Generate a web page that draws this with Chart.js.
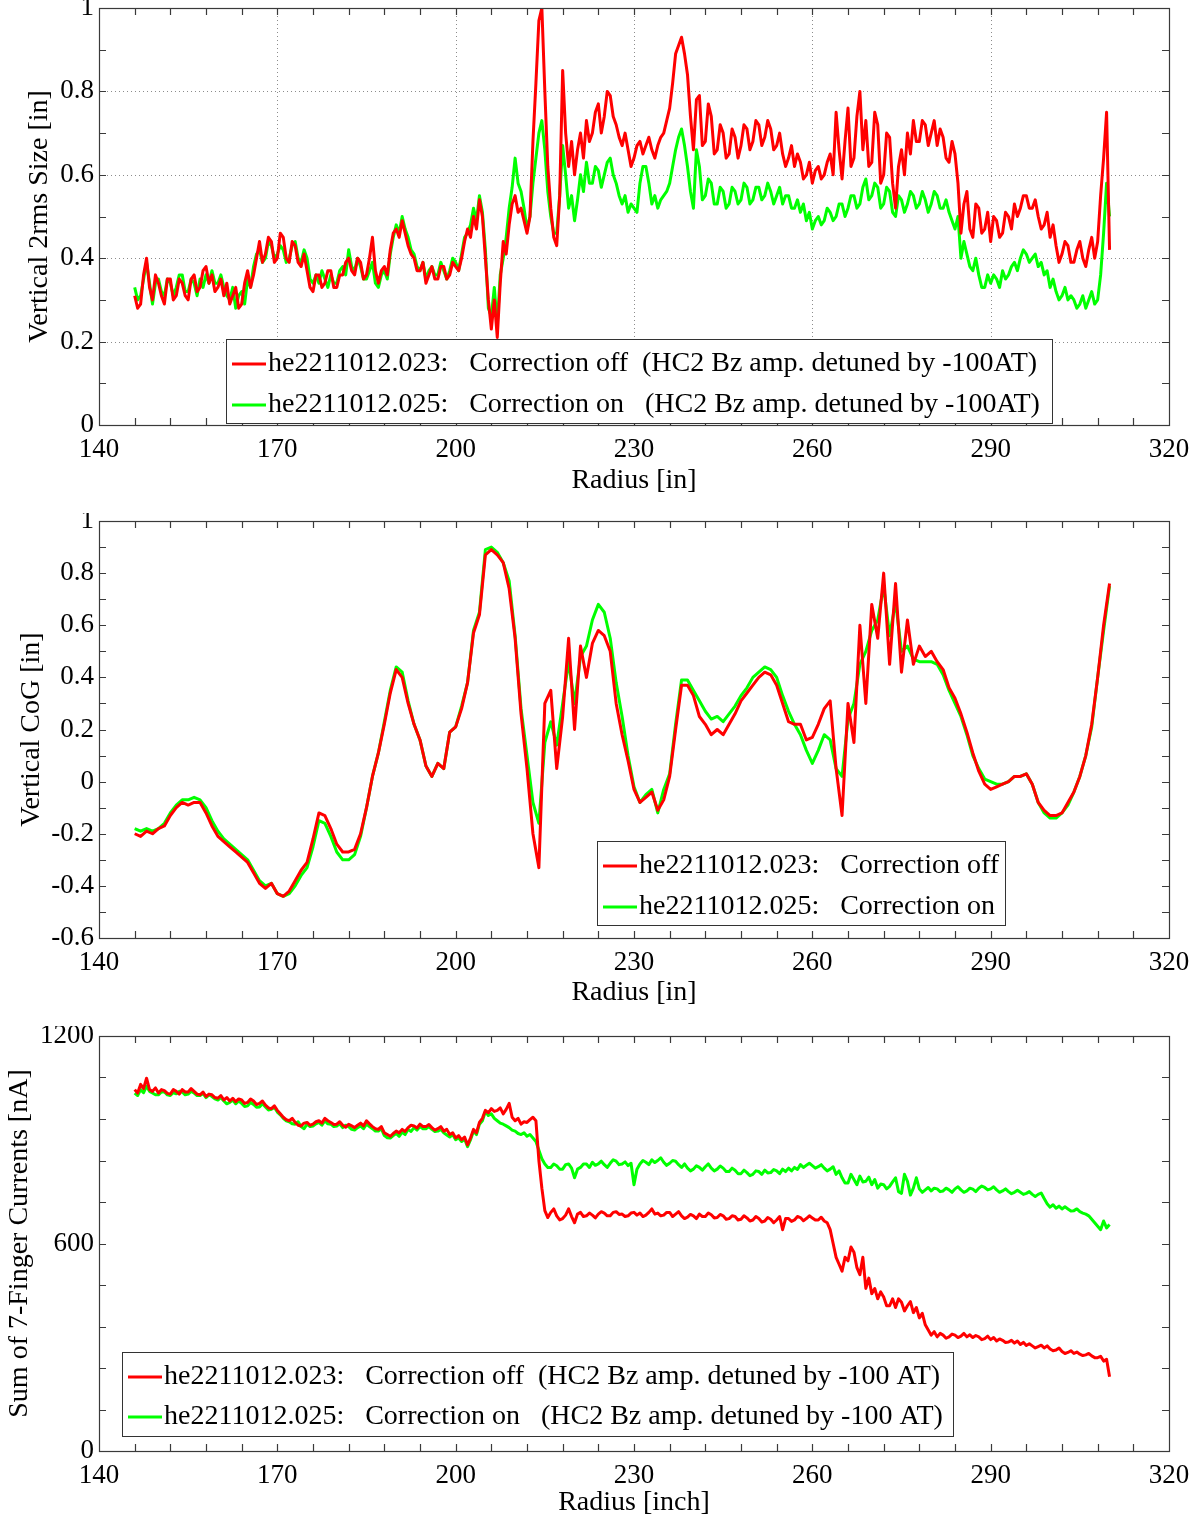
<!DOCTYPE html>
<html>
<head>
<meta charset="utf-8">
<script src="https://cdn.jsdelivr.net/npm/chart.js@4.4.0/dist/chart.umd.min.js"></script>
<style>
  html, body { margin: 0; padding: 0; background: #fff; }
  #wrap { position: relative; width: 1204px; height: 1519px; overflow: hidden; background: #fff; }
  canvas { position: absolute; left: 0; }
</style>
</head>
<body>
<div id="wrap">
  <canvas id="sizeCanvas" width="1204" height="513" style="top:0px"></canvas>
  <canvas id="cogCanvas" width="1204" height="513" style="top:513px"></canvas>
  <canvas id="currentCanvas" width="1204" height="493" style="top:1026px"></canvas>
</div>
<script>
// Beam profile comparison - correction off (red) vs correction on (green)

// radius samples every 0.5 in (size and current panels)
const radiusFine = [
  146, 146.5, 147, 147.5, 148, 148.5, 149, 149.5, 150, 150.5,
  151, 151.5, 152, 152.5, 153, 153.5, 154, 154.5, 155, 155.5,
  156, 156.5, 157, 157.5, 158, 158.5, 159, 159.5, 160, 160.5,
  161, 161.5, 162, 162.5, 163, 163.5, 164, 164.5, 165, 165.5,
  166, 166.5, 167, 167.5, 168, 168.5, 169, 169.5, 170, 170.5,
  171, 171.5, 172, 172.5, 173, 173.5, 174, 174.5, 175, 175.5,
  176, 176.5, 177, 177.5, 178, 178.5, 179, 179.5, 180, 180.5,
  181, 181.5, 182, 182.5, 183, 183.5, 184, 184.5, 185, 185.5,
  186, 186.5, 187, 187.5, 188, 188.5, 189, 189.5, 190, 190.5,
  191, 191.5, 192, 192.5, 193, 193.5, 194, 194.5, 195, 195.5,
  196, 196.5, 197, 197.5, 198, 198.5, 199, 199.5, 200, 200.5,
  201, 201.5, 202, 202.5, 203, 203.5, 204, 204.5, 205, 205.5,
  206, 206.5, 207, 207.5, 208, 208.5, 209, 209.5, 210, 210.5,
  211, 211.5, 212, 212.5, 213, 213.5, 214, 214.5, 215, 215.5,
  216, 216.5, 217, 217.5, 218, 218.5, 219, 219.5, 220, 220.5,
  221, 221.5, 222, 222.5, 223, 223.5, 224, 224.5, 225, 225.5,
  226, 226.5, 227, 227.5, 228, 228.5, 229, 229.5, 230, 230.5,
  231, 231.5, 232, 232.5, 233, 233.5, 234, 234.5, 235, 235.5,
  236, 236.5, 237, 237.5, 238, 238.5, 239, 239.5, 240, 240.5,
  241, 241.5, 242, 242.5, 243, 243.5, 244, 244.5, 245, 245.5,
  246, 246.5, 247, 247.5, 248, 248.5, 249, 249.5, 250, 250.5,
  251, 251.5, 252, 252.5, 253, 253.5, 254, 254.5, 255, 255.5,
  256, 256.5, 257, 257.5, 258, 258.5, 259, 259.5, 260, 260.5,
  261, 261.5, 262, 262.5, 263, 263.5, 264, 264.5, 265, 265.5,
  266, 266.5, 267, 267.5, 268, 268.5, 269, 269.5, 270, 270.5,
  271, 271.5, 272, 272.5, 273, 273.5, 274, 274.5, 275, 275.5,
  276, 276.5, 277, 277.5, 278, 278.5, 279, 279.5, 280, 280.5,
  281, 281.5, 282, 282.5, 283, 283.5, 284, 284.5, 285, 285.5,
  286, 286.5, 287, 287.5, 288, 288.5, 289, 289.5, 290, 290.5,
  291, 291.5, 292, 292.5, 293, 293.5, 294, 294.5, 295, 295.5,
  296, 296.5, 297, 297.5, 298, 298.5, 299, 299.5, 300, 300.5,
  301, 301.5, 302, 302.5, 303, 303.5, 304, 304.5, 305, 305.5,
  306, 306.5, 307, 307.5, 308, 308.5, 309, 309.5, 310
];

// radius samples every 1 in (CoG panel)
const radius = [
  146, 147, 148, 149, 150, 151, 152, 153, 154, 155,
  156, 157, 158, 159, 160, 161, 162, 163, 164, 165,
  166, 167, 168, 169, 170, 171, 172, 173, 174, 175,
  176, 177, 178, 179, 180, 181, 182, 183, 184, 185,
  186, 187, 188, 189, 190, 191, 192, 193, 194, 195,
  196, 197, 198, 199, 200, 201, 202, 203, 204, 205,
  206, 207, 208, 209, 210, 211, 212, 213, 214, 215,
  216, 217, 218, 219, 220, 221, 222, 223, 224, 225,
  226, 227, 228, 229, 230, 231, 232, 233, 234, 235,
  236, 237, 238, 239, 240, 241, 242, 243, 244, 245,
  246, 247, 248, 249, 250, 251, 252, 253, 254, 255,
  256, 257, 258, 259, 260, 261, 262, 263, 264, 265,
  266, 267, 268, 269, 270, 271, 272, 273, 274, 275,
  276, 277, 278, 279, 280, 281, 282, 283, 284, 285,
  286, 287, 288, 289, 290, 291, 292, 293, 294, 295,
  296, 297, 298, 299, 300, 301, 302, 303, 304, 305,
  306, 307, 308, 309, 310
];

// Vertical 2rms size [in] (on radiusFine)
const sizeOff = [
  0.31, 0.28, 0.29, 0.36, 0.40, 0.33, 0.30, 0.36, 0.34, 0.31,
  0.29, 0.35, 0.35, 0.30, 0.31, 0.35, 0.34, 0.31, 0.30, 0.35,
  0.36, 0.32, 0.33, 0.37, 0.38, 0.34, 0.36, 0.32, 0.33, 0.35,
  0.31, 0.34, 0.29, 0.31, 0.33, 0.28, 0.29, 0.34, 0.37, 0.33,
  0.36, 0.40, 0.44, 0.39, 0.41, 0.45, 0.44, 0.39, 0.40, 0.46,
  0.45, 0.40, 0.39, 0.44, 0.43, 0.39, 0.38, 0.41, 0.37, 0.33,
  0.32, 0.36, 0.36, 0.33, 0.34, 0.37, 0.37, 0.33, 0.33, 0.36,
  0.36, 0.39, 0.40, 0.37, 0.36, 0.40, 0.39, 0.35, 0.36, 0.40,
  0.45, 0.37, 0.34, 0.37, 0.38, 0.36, 0.42, 0.46, 0.47, 0.45,
  0.49, 0.46, 0.43, 0.41, 0.40, 0.37, 0.37, 0.39, 0.34, 0.36,
  0.38, 0.35, 0.35, 0.38, 0.38, 0.35, 0.36, 0.39, 0.38, 0.37,
  0.40, 0.44, 0.47, 0.45, 0.50, 0.47, 0.54, 0.50, 0.40, 0.30,
  0.23, 0.30, 0.21, 0.34, 0.44, 0.41, 0.48, 0.53, 0.55, 0.51,
  0.52, 0.49, 0.46, 0.50, 0.68, 0.82, 0.97, 1.00, 0.80, 0.62,
  0.52, 0.45, 0.43, 0.55, 0.85, 0.70, 0.62, 0.68, 0.60, 0.66,
  0.70, 0.64, 0.73, 0.68, 0.70, 0.75, 0.77, 0.70, 0.74, 0.80,
  0.79, 0.74, 0.72, 0.69, 0.67, 0.70, 0.66, 0.62, 0.64, 0.67,
  0.68, 0.65, 0.67, 0.69, 0.66, 0.64, 0.67, 0.69, 0.70, 0.73,
  0.76, 0.82, 0.89, 0.91, 0.93, 0.89, 0.84, 0.74, 0.66, 0.78,
  0.79, 0.67, 0.68, 0.77, 0.74, 0.65, 0.66, 0.72, 0.70, 0.64,
  0.65, 0.71, 0.69, 0.64, 0.67, 0.72, 0.71, 0.66, 0.68, 0.73,
  0.72, 0.67, 0.69, 0.73, 0.71, 0.66, 0.67, 0.70, 0.65, 0.62,
  0.64, 0.67, 0.62, 0.65, 0.63, 0.59, 0.60, 0.63, 0.58, 0.61,
  0.62, 0.59, 0.60, 0.63, 0.65, 0.60, 0.75, 0.66, 0.59, 0.68,
  0.76, 0.62, 0.64, 0.74, 0.80, 0.66, 0.73, 0.62, 0.63, 0.75,
  0.72, 0.58, 0.60, 0.70, 0.69, 0.58, 0.52, 0.62, 0.66, 0.60,
  0.70, 0.65, 0.73, 0.68, 0.68, 0.73, 0.72, 0.67, 0.70, 0.73,
  0.67, 0.71, 0.69, 0.64, 0.63, 0.68, 0.65, 0.58, 0.46, 0.53,
  0.56, 0.47, 0.45, 0.53, 0.52, 0.46, 0.47, 0.51, 0.44, 0.50,
  0.49, 0.45, 0.46, 0.51, 0.50, 0.47, 0.53, 0.50, 0.52, 0.55,
  0.55, 0.52, 0.52, 0.54, 0.50, 0.47, 0.48, 0.51, 0.45, 0.48,
  0.43, 0.39, 0.41, 0.44, 0.43, 0.39, 0.39, 0.42, 0.44, 0.40,
  0.38, 0.42, 0.45, 0.40, 0.44, 0.55, 0.64, 0.75, 0.42
];
const sizeOn = [
  0.33, 0.30, 0.31, 0.35, 0.39, 0.34, 0.29, 0.34, 0.35, 0.32,
  0.31, 0.35, 0.34, 0.31, 0.33, 0.36, 0.36, 0.32, 0.32, 0.35,
  0.34, 0.31, 0.35, 0.33, 0.36, 0.34, 0.37, 0.34, 0.34, 0.36,
  0.33, 0.31, 0.30, 0.33, 0.28, 0.31, 0.32, 0.29, 0.35, 0.33,
  0.38, 0.41, 0.42, 0.39, 0.40, 0.44, 0.43, 0.40, 0.41, 0.43,
  0.42, 0.39, 0.40, 0.43, 0.44, 0.40, 0.39, 0.42, 0.40, 0.35,
  0.34, 0.36, 0.34, 0.37, 0.35, 0.33, 0.36, 0.34, 0.34, 0.37,
  0.38, 0.36, 0.42, 0.38, 0.37, 0.40, 0.38, 0.35, 0.35, 0.37,
  0.39, 0.34, 0.33, 0.36, 0.37, 0.35, 0.41, 0.45, 0.48, 0.46,
  0.50, 0.47, 0.45, 0.42, 0.41, 0.38, 0.37, 0.39, 0.35, 0.37,
  0.38, 0.36, 0.36, 0.39, 0.37, 0.35, 0.37, 0.40, 0.39, 0.37,
  0.41, 0.45, 0.46, 0.48, 0.52, 0.49, 0.55, 0.51, 0.42, 0.28,
  0.26, 0.33, 0.24, 0.36, 0.40, 0.45, 0.52, 0.57, 0.64, 0.58,
  0.56, 0.52, 0.47, 0.50, 0.58, 0.64, 0.70, 0.73, 0.66, 0.56,
  0.50, 0.46, 0.46, 0.55, 0.67, 0.60, 0.52, 0.55, 0.49, 0.54,
  0.60, 0.56, 0.63, 0.58, 0.58, 0.62, 0.61, 0.57, 0.60, 0.63,
  0.64, 0.60, 0.58, 0.55, 0.53, 0.55, 0.51, 0.53, 0.52, 0.51,
  0.58, 0.62, 0.62, 0.58, 0.53, 0.55, 0.52, 0.54, 0.55, 0.56,
  0.58, 0.62, 0.66, 0.69, 0.71, 0.67, 0.62, 0.56, 0.52, 0.66,
  0.62, 0.54, 0.55, 0.59, 0.58, 0.53, 0.53, 0.57, 0.56, 0.52,
  0.53, 0.57, 0.56, 0.53, 0.54, 0.58, 0.57, 0.53, 0.54, 0.57,
  0.57, 0.54, 0.55, 0.58, 0.56, 0.53, 0.55, 0.57, 0.53, 0.55,
  0.55, 0.52, 0.52, 0.54, 0.51, 0.53, 0.49, 0.51, 0.47, 0.49,
  0.50, 0.48, 0.49, 0.52, 0.51, 0.49, 0.50, 0.53, 0.53, 0.50,
  0.52, 0.55, 0.55, 0.52, 0.53, 0.57, 0.59, 0.54, 0.55, 0.58,
  0.57, 0.52, 0.53, 0.57, 0.56, 0.51, 0.50, 0.55, 0.54, 0.51,
  0.53, 0.56, 0.55, 0.52, 0.53, 0.56, 0.54, 0.51, 0.53, 0.56,
  0.55, 0.52, 0.52, 0.54, 0.51, 0.49, 0.47, 0.50, 0.40, 0.44,
  0.41, 0.38, 0.37, 0.40, 0.36, 0.33, 0.33, 0.36, 0.34, 0.36,
  0.35, 0.33, 0.37, 0.35, 0.36, 0.38, 0.39, 0.37, 0.40, 0.42,
  0.41, 0.39, 0.40, 0.41, 0.38, 0.39, 0.36, 0.37, 0.33, 0.35,
  0.32, 0.30, 0.31, 0.33, 0.30, 0.31, 0.30, 0.28, 0.29, 0.31,
  0.28, 0.30, 0.32, 0.29, 0.30, 0.36, 0.46, 0.58, 0.50
];

// Vertical centre of gravity [in] (on radius)
const cogOff = [
  -0.20, -0.21, -0.19, -0.20, -0.18, -0.17, -0.13, -0.10, -0.08, -0.09,
  -0.08, -0.08, -0.12, -0.17, -0.21, -0.23, -0.25, -0.27, -0.29, -0.31,
  -0.35, -0.39, -0.41, -0.39, -0.43, -0.44, -0.42, -0.38, -0.34, -0.31,
  -0.22, -0.12, -0.13, -0.18, -0.24, -0.27, -0.27, -0.26, -0.20, -0.10,
  0.02, 0.11, 0.22, 0.34, 0.43, 0.40, 0.30, 0.22, 0.16, 0.06,
  0.02, 0.07, 0.05, 0.19, 0.21, 0.28, 0.38, 0.57, 0.64, 0.87,
  0.89, 0.87, 0.84, 0.74, 0.55, 0.26, 0.05, -0.20, -0.33, 0.30,
  0.35, 0.05, 0.25, 0.55, 0.20, 0.52, 0.40, 0.53, 0.58, 0.56,
  0.50, 0.30, 0.18, 0.08, -0.03, -0.08, -0.06, -0.04, -0.11, -0.07,
  0.02, 0.20, 0.37, 0.37, 0.33, 0.25, 0.22, 0.18, 0.20, 0.18,
  0.22, 0.26, 0.31, 0.34, 0.37, 0.40, 0.42, 0.41, 0.37, 0.30,
  0.23, 0.22, 0.22, 0.16, 0.17, 0.22, 0.28, 0.31, 0.05, -0.13,
  0.30, 0.15, 0.60, 0.30, 0.68, 0.55, 0.80, 0.45, 0.76, 0.42,
  0.62, 0.45, 0.52, 0.48, 0.50, 0.46, 0.43, 0.36, 0.32, 0.26,
  0.19, 0.11, 0.04, -0.01, -0.03, -0.02, -0.01, 0.00, 0.02, 0.02,
  0.03, -0.01, -0.08, -0.11, -0.13, -0.13, -0.12, -0.08, -0.04, 0.02,
  0.10, 0.22, 0.40, 0.60, 0.76
];
const cogOn = [
  -0.18, -0.19, -0.18, -0.19, -0.18, -0.16, -0.12, -0.09, -0.07, -0.07,
  -0.06, -0.07, -0.10, -0.15, -0.19, -0.22, -0.24, -0.26, -0.28, -0.30,
  -0.34, -0.38, -0.40, -0.39, -0.43, -0.44, -0.43, -0.40, -0.36, -0.33,
  -0.25, -0.15, -0.16, -0.21, -0.27, -0.30, -0.30, -0.28, -0.21, -0.10,
  0.02, 0.11, 0.23, 0.35, 0.44, 0.42, 0.31, 0.22, 0.16, 0.06,
  0.02, 0.07, 0.05, 0.19, 0.21, 0.29, 0.38, 0.58, 0.65, 0.89,
  0.90, 0.88, 0.84, 0.77, 0.56, 0.28, 0.10, -0.08, -0.16, 0.15,
  0.23, 0.14, 0.30, 0.46, 0.30, 0.48, 0.52, 0.62, 0.68, 0.65,
  0.55, 0.38, 0.25, 0.10, -0.02, -0.08, -0.05, -0.03, -0.12, -0.03,
  0.03, 0.22, 0.39, 0.39, 0.35, 0.31, 0.27, 0.24, 0.25, 0.23,
  0.26, 0.29, 0.33, 0.36, 0.40, 0.42, 0.44, 0.43, 0.40, 0.33,
  0.27, 0.22, 0.18, 0.12, 0.07, 0.12, 0.18, 0.16, 0.05, 0.02,
  0.24, 0.30, 0.45, 0.50, 0.58, 0.62, 0.75, 0.56, 0.69, 0.50,
  0.52, 0.47, 0.46, 0.46, 0.46, 0.45, 0.41, 0.35, 0.30, 0.25,
  0.18, 0.10, 0.05, 0.01, 0.00, -0.01, -0.01, 0.00, 0.02, 0.02,
  0.03, -0.01, -0.08, -0.12, -0.14, -0.14, -0.12, -0.09, -0.04, 0.02,
  0.10, 0.21, 0.40, 0.58, 0.75
];

// Sum of 7-finger currents [nA] (on radiusFine)
const currentOff = [
  1045, 1035, 1060, 1048, 1078, 1045, 1040, 1050, 1035, 1045,
  1042, 1034, 1032, 1045, 1040, 1032, 1045, 1038, 1038, 1048,
  1040, 1032, 1030, 1038, 1025, 1032, 1030, 1022, 1020, 1028,
  1015, 1022, 1012, 1020, 1010, 1018, 1015, 1005, 1008, 1018,
  1012, 1002, 1005, 1012, 1000, 992, 990, 998, 985, 975,
  965, 958, 955, 962, 950, 942, 940, 948, 950, 942,
  945, 952, 955, 948, 962, 955, 950, 944, 945, 952,
  942, 936, 945, 940, 935, 942, 948, 940, 955, 946,
  938, 932, 930, 938, 920, 915, 910, 918, 925, 920,
  930, 924, 935, 942, 940, 934, 945, 938, 938, 944,
  935, 928, 932, 938, 925, 930, 915, 920, 905, 912,
  900, 908, 885, 905, 930, 920, 950, 962, 985, 978,
  990, 982, 985, 992, 975, 988, 1005, 965, 955, 962,
  945, 952, 950, 958, 965, 955, 840, 760, 695, 675,
  690, 700, 680, 668, 672, 682, 700, 678, 660, 685,
  690, 678, 680, 688, 682, 674, 685, 692, 688, 680,
  680, 690, 692, 684, 685, 678, 680, 688, 690, 682,
  688, 678, 682, 690, 700, 685, 688, 680, 682, 690,
  690, 678, 685, 692, 680, 672, 676, 684, 680, 672,
  685, 678, 678, 688, 683, 674, 675, 684, 680, 670,
  672, 680, 678, 668, 670, 680, 674, 665, 668, 678,
  672, 662, 665, 675, 670, 660, 668, 678, 640, 672,
  672, 664, 668, 678, 675, 666, 672, 680, 674, 668,
  668, 676, 665, 660, 640, 600, 560, 540, 520, 560,
  550, 590, 575, 530, 510, 560, 470, 500, 455, 470,
  440, 460, 445, 420, 420, 440, 415, 440, 430, 405,
  420, 432, 400, 415, 385, 398, 365, 350, 335, 345,
  330, 340, 335, 326, 330, 338, 335, 328, 332, 340,
  330, 336, 328, 334, 330, 322, 325, 332, 322, 328,
  318, 324, 320, 314, 315, 320, 312, 318, 308, 314,
  305, 310, 304, 298, 302, 306, 298, 304, 295, 290,
  292, 298, 288, 282, 285, 290, 282, 286, 280, 276,
  278, 282, 275, 270, 270, 274, 260, 265, 215
];
const currentOn = [
  1035, 1028, 1045, 1036, 1055, 1040, 1035, 1030, 1030, 1038,
  1038, 1030, 1028, 1036, 1033, 1040, 1038, 1030, 1032, 1040,
  1035, 1028, 1028, 1034, 1022, 1030, 1025, 1018, 1015, 1022,
  1012, 1004, 1008, 1015, 1004, 1012, 1005, 996, 998, 1008,
  1002, 994, 995, 1004, 995, 986, 988, 994, 980, 972,
  962, 955, 952, 946, 945, 952, 938, 932, 945, 938,
  940, 946, 950, 942, 955, 946, 945, 938, 940, 946,
  935, 942, 938, 930, 928, 935, 940, 932, 945, 938,
  932, 925, 925, 932, 912, 906, 905, 912, 918, 910,
  922, 915, 930, 924, 935, 928, 938, 932, 932, 938,
  930, 924, 925, 930, 920, 914, 908, 915, 900, 905,
  895, 902, 880, 900, 925, 915, 945, 955, 982, 970,
  975, 962, 955, 948, 945, 940, 935, 928, 925, 918,
  915, 920, 910, 915, 905, 895, 870, 845, 830, 820,
  820, 830, 825, 815, 815, 828, 830, 818, 790, 815,
  820, 830, 830, 820, 835, 826, 830, 838, 828, 820,
  832, 842, 838, 828, 830, 836, 825, 832, 770, 815,
  830, 840, 835, 828, 842, 834, 840, 848, 835, 826,
  832, 840, 838, 828, 820, 830, 818, 810, 815, 825,
  820, 812, 822, 830, 818, 810, 815, 824, 818, 808,
  808, 818, 812, 802, 802, 812, 805, 796, 800, 810,
  808, 800, 812, 804, 805, 814, 810, 802, 815, 808,
  818, 810, 820, 814, 828, 820, 826, 832, 825, 818,
  822, 828, 818, 810, 815, 822, 800, 810, 790, 775,
  775, 800, 785, 770, 795, 778, 780, 792, 770, 785,
  760, 772, 770, 758, 765, 778, 790, 750, 745, 800,
  780, 740, 760, 790, 758, 748, 755, 762, 752, 760,
  758, 750, 752, 760, 755, 748, 758, 764, 755, 748,
  752, 760, 757, 750, 760, 766, 762, 755, 758, 764,
  755, 748, 752, 758, 750, 744, 748, 754, 748, 742,
  745, 750, 742, 736, 742, 746, 730, 715, 705, 712,
  702, 708, 700, 706, 700, 694, 695, 700, 692, 688,
  685, 680, 670, 660, 650, 640, 665, 645, 655
];

const radiusTicks = [140, 170, 200, 230, 260, 290, 320];
const sizeTicks = [0, 0.2, 0.4, 0.6, 0.8, 1];
const cogTicks = [-0.6, -0.4, -0.2, 0, 0.2, 0.4, 0.6, 0.8, 1];
const currentTicks = [0, 600, 1200];

const offLabelSize = 'he2211012.023:   Correction off  (HC2 Bz amp. detuned by -100AT)';
const onLabelSize = 'he2211012.025:   Correction on   (HC2 Bz amp. detuned by -100AT)';
const offLabelCog = 'he2211012.023:   Correction off';
const onLabelCog = 'he2211012.025:   Correction on';
const offLabelCurrent = 'he2211012.023:   Correction off  (HC2 Bz amp. detuned by -100 AT)';
const onLabelCurrent = 'he2211012.025:   Correction on   (HC2 Bz amp. detuned by -100 AT)';

const FONT = "'Liberation Serif', 'Times New Roman', serif";
const tickFont = { family: FONT, size: 27 };
const titleFont = { family: FONT, size: 28 };

// MATLAB-like box: dotted grid, inward ticks on all four sides, boxed legend
const matlabAxes = {
    id: 'matlabAxes',
    beforeDatasetsDraw(chart, args, opts) {
        if (!opts.grid) return;
        const { ctx, chartArea: a, scales: { x, y } } = chart;
        ctx.save();
        ctx.strokeStyle = '#8c8c8c';
        ctx.lineWidth = 1;
        ctx.setLineDash([1, 3]);
        x.ticks.forEach(t => {
            const px = Math.round(x.getPixelForValue(t.value)) + 0.5;
            if (px < a.left + 2 || px > a.right - 2) return;
            ctx.beginPath(); ctx.moveTo(px, a.top); ctx.lineTo(px, a.bottom); ctx.stroke();
        });
        y.ticks.forEach(t => {
            const py = Math.round(y.getPixelForValue(t.value)) + 0.5;
            if (py < a.top + 2 || py > a.bottom - 2) return;
            ctx.beginPath(); ctx.moveTo(a.left, py); ctx.lineTo(a.right, py); ctx.stroke();
        });
        ctx.restore();
    },
    afterDatasetsDraw(chart, args, opts) {
        const { ctx, chartArea: a, scales: { x, y } } = chart;
        const tick = 7;
        ctx.save();
        ctx.strokeStyle = '#3a3a3a';
        ctx.lineWidth = 1.2;

        const nx = Math.round((x.max - x.min) / opts.xMinor);
        for (let i = 1; i < nx; i++) {
            const px = Math.round(x.getPixelForValue(x.min + i * opts.xMinor)) + 0.5;
            ctx.beginPath();
            ctx.moveTo(px, a.bottom); ctx.lineTo(px, a.bottom - tick);
            ctx.moveTo(px, a.top); ctx.lineTo(px, a.top + tick);
            ctx.stroke();
        }
        const ny = Math.round((y.max - y.min) / opts.yMinor);
        for (let i = 1; i < ny; i++) {
            const py = Math.round(y.getPixelForValue(y.min + i * opts.yMinor)) + 0.5;
            ctx.beginPath();
            ctx.moveTo(a.left, py); ctx.lineTo(a.left + tick, py);
            ctx.moveTo(a.right, py); ctx.lineTo(a.right - tick, py);
            ctx.stroke();
        }
        ctx.strokeRect(a.left + 0.5, a.top + 0.5, a.right - a.left, a.bottom - a.top);

        const lg = opts.legend;
        if (lg) {
            ctx.fillStyle = '#fff';
            ctx.fillRect(lg.left, lg.top, lg.width, lg.height);
            ctx.strokeStyle = '#333';
            ctx.lineWidth = 1;
            ctx.strokeRect(lg.left + 0.5, lg.top + 0.5, lg.width, lg.height);
            ctx.font = "28px 'Liberation Serif', 'Times New Roman', serif";
            ctx.textBaseline = 'middle';
            chart.data.datasets.forEach((ds, i) => {
                const yy = lg.top + lg.rowTop + i * lg.rowGap;
                ctx.strokeStyle = ds.borderColor;
                ctx.lineWidth = 3;
                ctx.beginPath();
                ctx.moveTo(lg.left + 6, yy); ctx.lineTo(lg.left + 40, yy);
                ctx.stroke();
                ctx.fillStyle = '#000';
                ctx.fillText(ds.label, lg.left + 42, yy);
            });
        }
        ctx.restore();
    }
};

function makePanel(canvasId, p) {
    const canvas = document.getElementById(canvasId);
    const ctx = canvas.getContext('2d');
    const line = (label, values, color) => ({
        label: label,
        data: p.xs.map((r, i) => ({ x: r, y: values[i] })),
        borderColor: color,
        backgroundColor: color,
        borderWidth: 3,
        borderJoinStyle: 'round',
        pointRadius: 0,
        tension: 0,
        fill: false
    });

    return new Chart(ctx, {
        type: 'line',
        data: {
            datasets: [
                line(p.labels[0], p.off, '#ff0000'),
                line(p.labels[1], p.on, '#00ff00')
            ]
        },
        plugins: [matlabAxes],
        options: {
            responsive: false,
            animation: false,
            events: [],
            layout: { padding: { left: 0, right: 35, top: p.top, bottom: 0 } },
            plugins: {
                legend: { display: false },
                tooltip: { enabled: false },
                matlabAxes: { grid: p.grid, xMinor: 6, yMinor: p.yMinor, legend: p.legend }
            },
            scales: {
                x: {
                    type: 'linear',
                    min: 140,
                    max: 320,
                    afterBuildTicks: s => { s.ticks = radiusTicks.map(v => ({ value: v })); },
                    afterFit: s => { s.height = p.xHeight; s.paddingLeft = 0; s.paddingRight = 0; },
                    grid: { display: false, drawTicks: false },
                    border: { display: false },
                    ticks: { color: '#000', font: tickFont, padding: 9, maxRotation: 0, autoSkip: false, callback: v => String(v) },
                    title: { display: true, text: p.xTitle, color: '#000', font: titleFont, padding: { top: 0, bottom: p.xTitlePad } }
                },
                y: {
                    type: 'linear',
                    min: p.yTicks[0],
                    max: p.yTicks[p.yTicks.length - 1],
                    afterBuildTicks: s => { s.ticks = p.yTicks.map(v => ({ value: v })); },
                    afterFit: s => { s.width = 99; s.paddingTop = 0; s.paddingBottom = 0; },
                    grid: { display: false, drawTicks: false },
                    border: { display: false },
                    ticks: { color: '#000', font: tickFont, padding: 5, autoSkip: false, callback: v => String(Math.round(v * 10) / 10) },
                    title: { display: true, text: p.yTitle, color: '#000', font: titleFont, padding: { top: p.yTitlePad, bottom: 0 } }
                }
            }
        }
    });
}

// 1. Vertical 2rms size
makePanel('sizeCanvas', {
    xs: radiusFine, off: sizeOff, on: sizeOn,
    labels: [offLabelSize, onLabelSize],
    yTicks: sizeTicks, yMinor: 0.1, grid: true,
    top: 8, xHeight: 88, xTitlePad: 16, yTitlePad: 23,
    xTitle: 'Radius [in]', yTitle: 'Vertical 2rms Size [in]',
    legend: { left: 226, top: 339, width: 826, height: 84, rowTop: 25, rowGap: 41 }
});

// 2. Vertical centre of gravity
makePanel('cogCanvas', {
    xs: radius, off: cogOff, on: cogOn,
    labels: [offLabelCog, onLabelCog],
    yTicks: cogTicks, yMinor: 0.1, grid: false,
    top: 8, xHeight: 88, xTitlePad: 17, yTitlePad: 15,
    xTitle: 'Radius [in]', yTitle: 'Vertical CoG [in]',
    legend: { left: 597, top: 328, width: 408, height: 84, rowTop: 25, rowGap: 41 }
});

// 3. Sum of 7-finger currents
makePanel('currentCanvas', {
    xs: radiusFine, off: currentOff, on: currentOn,
    labels: [offLabelCurrent, onLabelCurrent],
    yTicks: currentTicks, yMinor: 120, grid: false,
    top: 10, xHeight: 68, xTitlePad: 0, yTitlePad: 3,
    xTitle: 'Radius [inch]', yTitle: 'Sum of 7-Finger Currents [nA]',
    legend: { left: 122, top: 326, width: 831, height: 84, rowTop: 25, rowGap: 40 }
});
</script>
</body>
</html>
